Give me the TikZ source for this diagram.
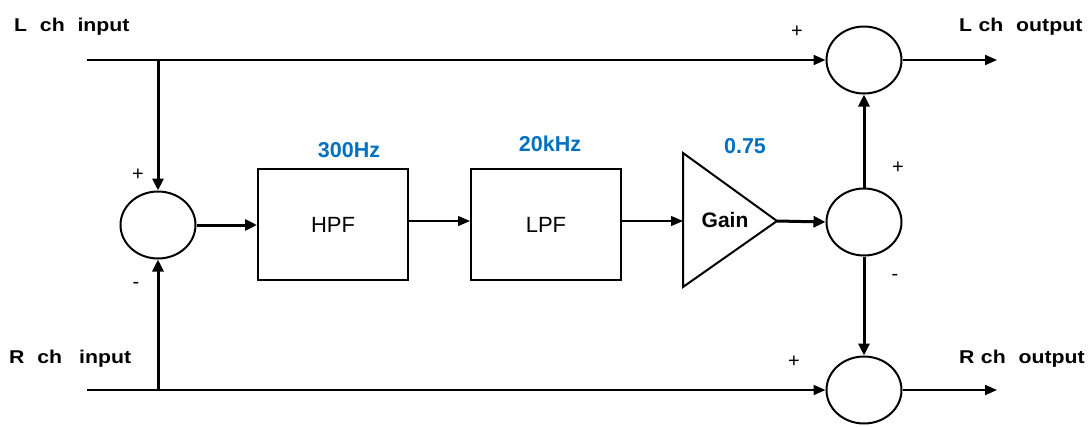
\documentclass[tikz,border=0pt]{standalone}
\usepackage{fontspec}
\usepackage{graphicx}
\setmainfont{Liberation Sans}
\usetikzlibrary{shapes.geometric,arrows.meta}
\definecolor{lblue}{RGB}{0,112,192}
\newcommand\wideio[1]{\scalebox{1.15}[1]{#1}}
\begin{document}
\begin{tikzpicture}[x=1pt,y=-1pt,
  sum/.style={draw,ellipse,line width=2pt,minimum width=75pt,minimum height=67pt,inner sep=0},
  blk/.style={draw,line width=2pt,minimum width=150pt,minimum height=111pt,inner sep=0,font=\fontsize{22}{24}\selectfont},
  io/.style={anchor=base west,inner sep=0,font=\bfseries\fontsize{18.5}{22}\selectfont},
  sgn/.style={inner sep=0,font=\fontsize{20}{22}\selectfont},
  param/.style={inner sep=0,text=lblue,font=\bfseries\fontsize{21.5}{24}\selectfont},
  sigA/.style={line width=2pt,-{Triangle[length=12pt,width=10pt]}},
  sigB/.style={line width=3pt,-{Triangle[length=12pt,width=11pt]}},
  sigC/.style={line width=1.3pt,-{Triangle[length=12pt,width=10pt]}}
]
\useasboundingbox (0,0) rectangle (1092,426);
% summing junctions
\node[sum] (sL) at (158,225) {};
\node[sum] (sT) at (864,60) {};
\node[sum] (sM) at (864,222) {};
\node[sum] (sB) at (864,390) {};
% filters
\node[blk] (hpf) at (333,224.5) {HPF};
\node[blk] (lpf) at (546,224.5) {LPF};
% gain triangle
\coordinate (gA) at (683,153);
\coordinate (gB) at (683,287);
\coordinate (gT) at (777,221);
\coordinate (gIn) at (683,221);
\draw[line width=2pt,line join=miter] (gA) -- (gT) -- (gB) -- cycle;
\node[inner sep=0,font=\bfseries\fontsize{21}{24}\selectfont] (gain) at (725,220) {Gain};
% free ends
\coordinate (lin) at (87,60);
\coordinate (ljn) at (158,60);
\coordinate (rin) at (87,390);
\coordinate (rjn) at (158,390);
\coordinate (lout) at (997,60);
\coordinate (rout) at (997,390);
% connectors
\draw[sigA] (lin) -- (sT.west);
\draw[sigA] (rin) -- (sB.west);
\draw[sigB] (ljn) -- (sL.north);
\draw[sigB] (rjn) -- (sL.south);
\draw[sigB] (sL.east) -- (hpf.west |- sL.east);
\draw[sigC] (hpf.east |- gIn) -- (lpf.west |- gIn);
\draw[sigC] (lpf.east |- gIn) -- (gIn);
\draw[sigB] (gT) -- (sM.west);
\draw[sigB] (sM.north) -- (sT.south);
\draw[sigB] (sM.south) -- (sB.north);
\draw[sigA] (sT.east) -- (lout);
\draw[sigA] (sB.east) -- (rout);
% io labels
\node[io] (tLin) at (14,31) {\wideio{L\hspace{0.6em}ch\hspace{0.6em}input}};
\node[io] (tLout) at (959,31) {\wideio{L\hspace{0.3em}ch\hspace{0.6em}output}};
\node[io] (tRin) at (9,363) {\wideio{R\hspace{0.6em}ch\hspace{0.8em}input}};
\node[io] (tRout) at (959,363) {\wideio{R\hspace{0.3em}ch\hspace{0.6em}output}};
% signs
\node[sgn] (p1) at (797,32) {+};
\node[sgn] (p2) at (138,175) {+};
\node[sgn] (m1) at (136,285) {-};
\node[sgn] (p3) at (898,168) {+};
\node[sgn] (m2) at (895,277) {-};
\node[sgn] (p4) at (794,362) {+};
% parameters
\node[param] (f1) at (349,150) {300Hz};
\node[param] (f2) at (550,144) {20kHz};
\node[param] (k) at (745,146) {0.75};
\end{tikzpicture}
\end{document}
